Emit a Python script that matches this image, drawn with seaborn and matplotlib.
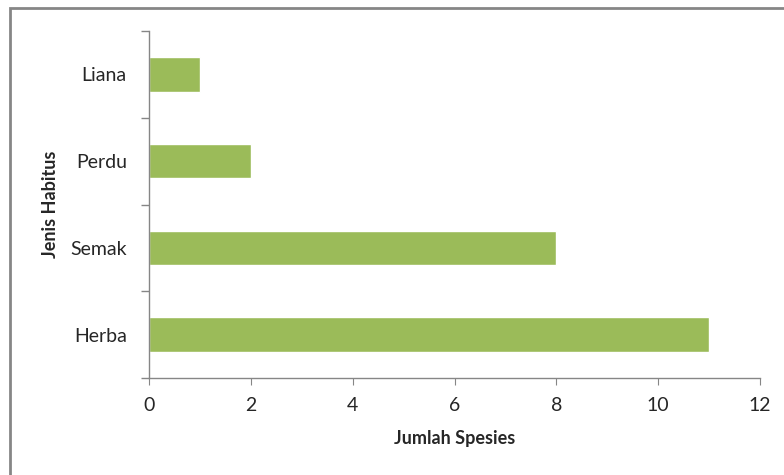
import matplotlib.pyplot as plt
import matplotlib.patches as mpatches
import numpy as np
import pandas as pd
import seaborn as sns

# data
habitus = ["Liana", "Perdu", "Semak", "Herba"]
jumlah = [1, 2, 8, 11]

df = pd.DataFrame({"habitus": habitus, "jumlah": jumlah})

sns.set_style("white")
plt.rcParams["font.family"] = ["Lato", "DejaVu Sans"]

fig = plt.figure(figsize=(7.84, 4.75), dpi=100)
ax = fig.add_axes([149 / 784, 97 / 475, 611 / 784, 347 / 475])

sns.barplot(data=df, x="jumlah", y="habitus", orient="h", color="#9BBB59",
            saturation=1, width=0.4, ax=ax)

ax.set_xlim(0, 12)
ax.set_ylim(3.5, -0.5)
ax.set_xticks(np.arange(0, 13, 2))
ax.tick_params(axis="x", bottom=True, length=5, color="#868686",
               labelsize=14, pad=9, direction="out")
ax.tick_params(axis="y", which="major", left=True, length=0, labelsize=14, pad=16)
ax.set_yticks(np.arange(-0.5, 4, 1), minor=True)
ax.tick_params(axis="y", which="minor", left=True, length=6, width=1,
               color="#868686", direction="out")

for s in ["top", "right"]:
    ax.spines[s].set_visible(False)
for s in ["left", "bottom"]:
    ax.spines[s].set_color("#868686")
    ax.spines[s].set_linewidth(1)

ax.set_xlabel("Jumlah Spesies", fontsize=13, fontweight="bold", labelpad=11)
ax.set_ylabel("Jenis Habitus", fontsize=13, fontweight="bold", labelpad=8)

# outer chart border
border = mpatches.Rectangle((10 / 784, -0.05), 1.1, (475 - 8) / 475 + 0.05,
                            transform=fig.transFigure, fill=False,
                            edgecolor="#868686", linewidth=2, clip_on=False)
fig.patches.append(border)

fig.savefig("out.png", dpi=100)
